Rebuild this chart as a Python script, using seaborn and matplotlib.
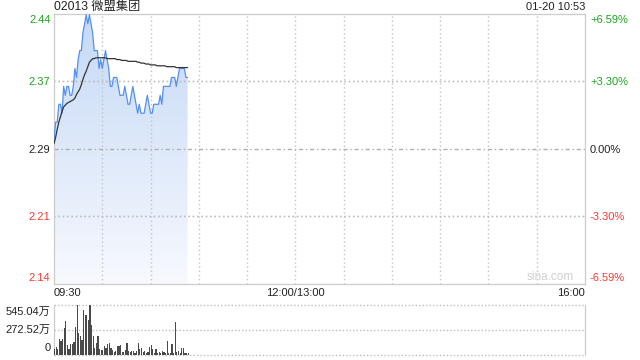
import numpy as np
import pandas as pd
import matplotlib
matplotlib.use("Agg")
import matplotlib.pyplot as plt
import seaborn as sns
from matplotlib.patches import Polygon
from matplotlib.colors import LinearSegmentedColormap

# ---------------- data ----------------
stock_title = "02013 微盟集团"
timestamp = "01-20 10:53"
prev_close = 2.29
limit_pct = 6.59

price = [2.30, 2.32, 2.32, 2.34, 2.34, 2.33, 2.36, 2.35, 2.36, 2.36,
         2.35, 2.35, 2.36, 2.38, 2.37, 2.39, 2.40, 2.40, 2.42, 2.43,
         2.44, 2.43, 2.44, 2.43, 2.42, 2.40, 2.40, 2.40, 2.38, 2.39,
         2.38, 2.39, 2.40, 2.39, 2.38, 2.36, 2.36, 2.37, 2.37, 2.37,
         2.36, 2.35, 2.35, 2.35, 2.36, 2.35, 2.34, 2.34, 2.35, 2.36,
         2.35, 2.34, 2.33, 2.34, 2.33, 2.33, 2.33, 2.34, 2.35, 2.34,
         2.33, 2.33, 2.34, 2.34, 2.34, 2.34, 2.35, 2.34, 2.36, 2.36,
         2.36, 2.36, 2.36, 2.37, 2.37, 2.37, 2.36, 2.37, 2.38, 2.38,
         2.38, 2.38, 2.37, 2.37]

avg_price = [2.296, 2.303, 2.312, 2.320, 2.326, 2.332, 2.337, 2.339, 2.341, 2.342,
             2.343, 2.344, 2.345, 2.347, 2.351, 2.354, 2.357, 2.362, 2.368, 2.373,
             2.377, 2.382, 2.387, 2.389, 2.391, 2.391, 2.392, 2.392, 2.392, 2.392,
             2.392, 2.392, 2.392, 2.391, 2.391, 2.391, 2.391, 2.391, 2.391, 2.390,
             2.390, 2.390, 2.389, 2.389, 2.389, 2.389, 2.388, 2.388, 2.388, 2.388,
             2.388, 2.388, 2.387, 2.387, 2.386, 2.386, 2.386, 2.385, 2.385, 2.385,
             2.384, 2.384, 2.384, 2.384, 2.383, 2.383, 2.383, 2.383, 2.383, 2.383,
             2.382, 2.382, 2.382, 2.382, 2.382, 2.382, 2.381, 2.381, 2.381, 2.381,
             2.381, 2.381, 2.381, 2.381]

volume_wan = [65, 84, 55, 171, 145, 171, 290, 363, 109, 65,
              116, 116, 134, 302, 545, 236, 200, 153, 490, 436,
              436, 381, 545, 327, 200, 73, 120, 200, 65, 47,
              44, 91, 73, 116, 127, 73, 44, 29, 36, 98,
              98, 109, 29, 25, 44, 127, 36, 25, 36, 36,
              18, 36, 127, 62, 73, 29, 36, 11, 29, 84,
              102, 65, 11, 55, 18, 29, 11, 36, 29, 18,
              145, 18, 18, 116, 18, 356, 29, 36, 18, 73,
              73, 18, 18, 11]

minute_idx = list(range(len(price)))
session_minutes = 330
time_tick_pos = [0, 150, 330]
time_tick_labels = ["09:30", "12:00/13:00", "16:00"]
price_tick_labels = ["2.44", "2.37", "2.29", "2.21", "2.14"]
pct_tick_labels = ["+6.59%", "+3.30%", "0.00%", "-3.30%", "-6.59%"]
vol_max = 545.04
vol_tick_labels = ["545.04万", "272.52万", "0"]

df = pd.DataFrame({"minute": minute_idx, "price": price, "avg": avg_price,
                   "volume": volume_wan})

# ---------------- style ----------------
sns.set_style("white")
plt.rcParams["font.family"] = ["Liberation Sans", "Noto Sans CJK SC", "DejaVu Sans"]

W, H = 640, 360
fig = plt.figure(figsize=(6.4, 3.6), dpi=100)

L, R = 54, 585
main_top, main_bot = 14, 284
vol_top, vol_bot = 304.5, 354.5


def fx(px):
    return px / W


def fy(py):
    return 1 - py / H


ax = fig.add_axes([fx(L), fy(main_bot), (R - L) / W, (main_bot - main_top) / H])
axv = fig.add_axes([fx(L), fy(vol_bot), (R - L) / W, (vol_bot - vol_top) / H])

ymin = prev_close * (1 - limit_pct / 100)
ymax = prev_close * (1 + limit_pct / 100)

GREEN = "#1fa31f"
RED = "#f23b32"
DARK = "#222222"
GRID = "#c4c4c4"

# gradient fill under the price line
cmap = LinearSegmentedColormap.from_list("fill", ["#f7f9fe", "#c5d9f6"])
grad = np.linspace(1, 0, 256).reshape(-1, 1)
im = ax.imshow(grad, extent=[0, session_minutes, ymin, ymax], aspect="auto",
               cmap=cmap, origin="upper", zorder=1, interpolation="bicubic")
verts = [(df.minute.iloc[0], ymin)] + list(zip(df.minute, df.price)) + \
        [(df.minute.iloc[-1], ymin)]
poly = Polygon(verts, closed=True, transform=ax.transData,
               facecolor="none", edgecolor="none")
ax.add_patch(poly)
im.set_clip_path(poly)

# grid (drawn above the fill)
for m in range(30, session_minutes, 30):
    ax.axvline(m, color=GRID, lw=1.0, ls=(0, (1, 2)), zorder=2, snap=True)
# +/-3.30% levels, offset by a hair so they land on a pixel row
grid_pcts = [limit_pct / 2, -limit_pct / 2]
for gp in grid_pcts:
    ax.axhline(prev_close * (1 + gp / 100), color="#bcbcbc", lw=1.2,
               ls=(0, (1, 1.6)), zorder=2, snap=False)
ax.axhline(prev_close, color="#b0b0b0", lw=1.0, ls=(0, (3, 2, 1, 2)), zorder=2,
           snap=True)

sns.lineplot(data=df, x="minute", y="price", ax=ax, color="#5590ef",
             lw=0.9, zorder=3)
sns.lineplot(data=df, x="minute", y="avg", ax=ax, color="#333333",
             lw=0.9, zorder=4)

ax.set_xlim(0, session_minutes)
ax.set_ylim(ymin, ymax)
ax.set_xticks([])
ax.set_yticks([])
ax.set_xlabel("")
ax.set_ylabel("")
for s in ax.spines.values():
    s.set_color("#cccccc")
    s.set_linewidth(0.9)

# volume
axv.bar(df.minute, df.volume, width=0.75, color="#4a4a4a", align="edge",
        linewidth=0, edgecolor="none", zorder=3)
axv.set_xlim(0, session_minutes)
axv.set_ylim(0, vol_max)
axv.set_xticks([])
axv.set_yticks([])
for lvl in (vol_max, vol_max / 2, 0):
    axv.axhline(lvl, color="#bdbdbd", lw=1.0, ls=(0, (1, 1.5)), zorder=1,
                clip_on=False, snap=True)
for k in ("top", "bottom"):
    axv.spines[k].set_visible(False)
for k in ("left", "right"):
    axv.spines[k].set_color("#cccccc")
    axv.spines[k].set_linewidth(0.9)

FS = 8

# header texts
fig.text(fx(L), fy(7), stock_title, fontsize=8.8, color=DARK,
         ha="left", va="center")
fig.text(fx(R), fy(7), timestamp, fontsize=FS, color=DARK,
         ha="right", va="center")

# left price labels & right percent labels
label_y = [20, 82, 150, 217, 278]
label_colors = [GREEN, GREEN, DARK, RED, RED]
for lab, pct, y, c in zip(price_tick_labels, pct_tick_labels, label_y, label_colors):
    fig.text(fx(50.5), fy(y), lab, fontsize=FS, color=c, ha="right", va="center")
    fig.text(fx(590), fy(y), pct, fontsize=FS, color=c, ha="left", va="center")

# time labels
fig.text(fx(L), fy(293), time_tick_labels[0], fontsize=FS, color=DARK,
         ha="left", va="center")
fig.text(fx(L + (R - L) * time_tick_pos[1] / session_minutes), fy(293),
         time_tick_labels[1], fontsize=FS, color=DARK, ha="center", va="center")
fig.text(fx(R), fy(293), time_tick_labels[2], fontsize=FS, color=DARK,
         ha="right", va="center")

# volume labels
for lab, y in zip(vol_tick_labels, [311.5, 329.5, 348]):
    fig.text(fx(50.5), fy(y), lab, fontsize=FS, color=DARK, ha="right", va="center")

# watermark
fig.text(fx(574), fy(277), "sina.com", fontsize=8.5, color="#d0d0d0",
         ha="right", va="center")

fig.savefig("out.png", dpi=100)
